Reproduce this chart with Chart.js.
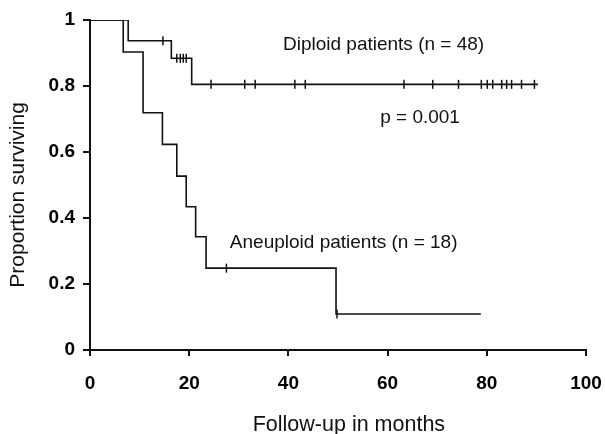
<!DOCTYPE html>
<html lang="en">
<head>
  <meta charset="UTF-8">
  <title>Survival by ploidy</title>
  <script src="https://cdn.jsdelivr.net/npm/chart.js"></script>
  <style>
    html, body { margin: 0; padding: 0; background: #fff; }
    #wrap { width: 605px; height: 434px; }
  </style>
</head>
<body>
  <div id="wrap"><canvas id="km" width="605" height="434"></canvas></div>

  <script>
    // Kaplan-Meier steps (months, proportion surviving)
    const diploidTimes = [0, 7.7, 16.4, 20.5, 90.3];
    const diploidSurv  = [1, 0.937, 0.884, 0.805, 0.805];
    const aneuploidTimes = [0, 6.7, 10.7, 14.6, 17.5, 19.4, 21.3, 23.4, 49.6, 78.8];
    const aneuploidSurv  = [1, 0.903, 0.719, 0.623, 0.527, 0.434, 0.343, 0.248, 0.109, 0.109];

    // censored observations (tick marks)
    const diploidCensTimes = [14.7, 17.5, 18.2, 18.8, 19.4, 24.4, 31.2, 33.3, 41.3, 43.4, 63.3, 69.1, 74.3,
                              78.9, 80.1, 81.2, 83.0, 84.0, 85.0, 87.0, 89.6];
    const diploidCensSurv  = [0.937, 0.884, 0.884, 0.884, 0.884, 0.805, 0.805, 0.805, 0.805, 0.805, 0.805, 0.805, 0.805,
                              0.805, 0.805, 0.805, 0.805, 0.805, 0.805, 0.805, 0.805];
    const aneuploidCensTimes = [27.5, 49.8];
    const aneuploidCensSurv  = [0.248, 0.109];

    const xTicks = [0, 20, 40, 60, 80, 100];
    const yTicks = [0, 0.2, 0.4, 0.6, 0.8, 1];

    const FONT = "'Liberation Sans', Arial, Helvetica, sans-serif";
    Chart.defaults.color = '#000';
    Chart.defaults.font.family = FONT;

    const toPoints = (xs, ys) => xs.map((x, i) => ({ x: x, y: ys[i] }));

    const stepStyle = {
      type: 'line',
      stepped: true,
      borderColor: '#111',
      borderWidth: 1.6,
      pointRadius: 0,
      fill: false
    };
    const censorStyle = {
      type: 'scatter',
      showLine: false,
      pointStyle: 'line',
      rotation: 90,
      pointRadius: 4.5,
      borderColor: '#111',
      borderWidth: 1.5
    };

    // text labels inside the plot, plus the two axis titles
    const labelPlugin = {
      id: 'labels',
      afterDatasetsDraw(chart) {
        const { ctx, scales: { x, y } } = chart;
        ctx.save();
        ctx.fillStyle = '#111';
        ctx.font = '19px ' + FONT;
        ctx.textAlign = 'left';
        ctx.textBaseline = 'middle';
        ctx.fillText('Diploid patients (n = 48)', x.getPixelForValue(38.9), y.getPixelForValue(0.924));
        ctx.fillText('p = 0.001', x.getPixelForValue(58.5), y.getPixelForValue(0.703));
        ctx.fillText('Aneuploid patients (n = 18)', x.getPixelForValue(28.2), y.getPixelForValue(0.324));

        ctx.textAlign = 'center';
        ctx.font = '21.5px ' + FONT;
        ctx.fillText('Follow-up in months', x.getPixelForValue(52.2), 425);

        ctx.font = '21px ' + FONT;
        ctx.translate(18, y.getPixelForValue(0.47));
        ctx.rotate(-Math.PI / 2);
        ctx.fillText('Proportion surviving', 0, 0);
        ctx.restore();
      }
    };

    new Chart(document.getElementById('km'), {
      data: {
        datasets: [
          Object.assign({ label: 'Diploid', data: toPoints(diploidTimes, diploidSurv) }, stepStyle),
          Object.assign({ label: 'Aneuploid', data: toPoints(aneuploidTimes, aneuploidSurv) }, stepStyle),
          Object.assign({ label: 'Diploid censored', data: toPoints(diploidCensTimes, diploidCensSurv) }, censorStyle),
          Object.assign({ label: 'Aneuploid censored', data: toPoints(aneuploidCensTimes, aneuploidCensSurv) }, censorStyle)
        ]
      },
      options: {
        responsive: false,
        animation: false,
        layout: { padding: { left: 0, top: 20, right: 19, bottom: 0 } },
        plugins: {
          legend: { display: false },
          tooltip: { enabled: false }
        },
        scales: {
          x: {
            type: 'linear',
            min: 0,
            max: 100,
            afterFit: s => { s.height = 84; s.paddingLeft = 0; s.paddingRight = 0; },
            afterBuildTicks: s => { s.ticks = xTicks.map(v => ({ value: v })); },
            border: { color: '#111', width: 2 },
            grid: { drawOnChartArea: false, color: '#111', lineWidth: 2, tickLength: 6 },
            ticks: { padding: 16, font: { size: 19, weight: 'bold' }, maxRotation: 0 },
            title: { display: false }
          },
          y: {
            type: 'linear',
            min: 0,
            max: 1,
            afterFit: s => { s.width = 90; s.paddingTop = 0; s.paddingBottom = 0; },
            afterBuildTicks: s => { s.ticks = yTicks.map(v => ({ value: v })); },
            border: { color: '#111', width: 2 },
            grid: { drawOnChartArea: false, color: '#111', lineWidth: 2, tickLength: 7 },
            ticks: { padding: 8, font: { size: 19, weight: 'bold' }, callback: v => String(v) },
            title: { display: false }
          }
        }
      },
      plugins: [labelPlugin]
    });
  </script>
</body>
</html>
